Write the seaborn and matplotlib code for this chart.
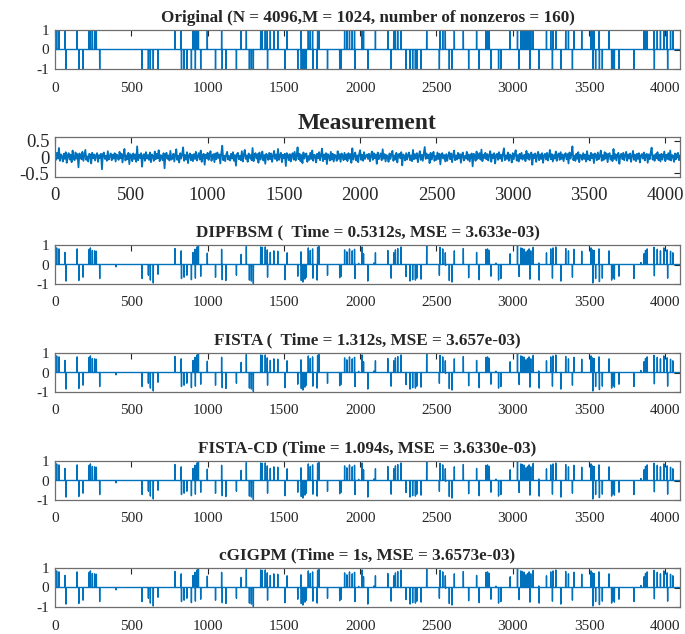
import seaborn as sns
import numpy as np
import matplotlib.pyplot as plt

N = 4096

# support of the original sparse signal (+1 and -1 entries)
pos_idx = [11, 26, 65, 145, 224, 232, 245, 260, 271, 786,
           827, 905, 918, 931, 940, 998, 1092, 1220, 1254, 1348,
           1358, 1378, 1391, 1411, 1434, 1460, 1521, 1612, 1660, 1673,
           1688, 1721, 1730, 1898, 1913, 1930, 1948, 1963, 2013, 2022,
           2100, 2181, 2220, 2231, 2246, 2268, 2436, 2523, 2541, 2558,
           2617, 2676, 2763, 2824, 2835, 2846, 2983, 3031, 3053, 3064,
           3075, 3086, 3097, 3107, 3118, 3134, 3221, 3249, 3264, 3282,
           3347, 3365, 3402, 3452, 3513, 3522, 3533, 3565, 3631, 3860,
           3870, 3881, 3925, 3947, 3968, 3990, 4012, 4034, 4049]
neg_idx = [72, 156, 184, 293, 571, 612, 625, 644, 675, 829,
           846, 864, 894, 920, 955, 1052, 1096, 1120, 1189, 1274,
           1287, 1300, 1393, 1508, 1591, 1614, 1625, 1638, 1647, 1690,
           1718, 1786, 1866, 1876, 1966, 2050, 2203, 2301, 2327, 2344,
           2362, 2371, 2399, 2519, 2584, 2602, 2711, 2780, 2857, 2907,
           2922, 3042, 3112, 3173, 3260, 3315, 3391, 3525, 3543, 3568,
           3587, 3648, 3657, 3666, 3696, 3794, 3928, 4015]

# recovered magnitudes
pos_rec = [0.85, 0.80, 0.62, 0.80, 0.78, 0.85, 0.72, 0.70, 0.68, 0.82,
           0.70, 0.62, 0.78, 0.90, 0.95, 0.58, 0.78, 0.52, 0.92, 0.90,
           0.88, 0.90, 0.75, 0.62, 0.70, 0.68, 0.60, 0.65, 0.85, 0.72,
           0.80, 0.88, 0.92, 0.75, 0.65, 0.80, 0.70, 0.78, 0.90, 0.55,
           0.60, 0.72, 0.60, 0.75, 0.82, 0.90, 0.95, 0.88, 0.80, 0.60,
           0.70, 0.82, 0.62, 0.78, 0.80, 0.72, 0.55, 0.98, 0.85, 0.82,
           0.78, 0.65, 0.72, 0.80, 0.70, 0.88, 0.60, 0.80, 0.85, 0.90,
           0.82, 0.70, 0.78, 0.68, 0.85, 0.75, 0.72, 0.80, 0.70, 0.55,
           0.72, 0.80, 0.88, 0.78, 0.70, 0.85, 0.75, 0.68, 0.60]
neg_rec = [0.85, 0.82, 0.65, 0.72, 0.72, 0.55, 0.80, 0.95, 0.50, 0.72,
           0.65, 0.55, 0.78, 0.70, 0.60, 0.65, 0.78, 0.82, 0.55, 0.80,
           0.85, 0.98, 0.65, 0.78, 0.60, 0.82, 0.90, 0.75, 0.65, 0.70,
           0.80, 0.55, 0.68, 0.60, 0.72, 0.85, 0.70, 0.62, 0.85, 0.78,
           0.80, 0.70, 0.75, 0.55, 0.82, 0.90, 0.68, 0.78, 0.60, 0.80,
           0.72, 0.62, 0.75, 0.80, 0.70, 0.85, 0.65, 0.95, 0.72, 0.88,
           0.70, 0.80, 0.68, 0.75, 0.60, 0.72, 0.58, 0.70]
extra_idx = [400, 1990, 2090, 2560, 2890, 3170, 3840]
extra_val = [-0.12, 0.06, 0.08, -0.05, 0.07, 0.08, 0.10]

measurement = [
    0.04, -0.09, 0.13, -0.05, 0.28, -0.12, 0.08, 0.02, -0.14, 0.10, -0.06, 0.15, -0.18, 0.05, 0.12, -0.08, 0.07, -0.16, 0.20, -0.03,
    -0.10, 0.14, -0.05, 0.09, -0.32, 0.11, 0.03, -0.07, 0.16, -0.12, 0.06, 0.22, -0.09, 0.02, -0.14, 0.10, 0.07, -0.20, 0.13, -0.04,
    0.08, -0.11, 0.05, 0.12, -0.15, 0.06, -0.03, 0.10, -0.38, 0.09, 0.14, -0.06, 0.04, -0.12, 0.18, -0.08, 0.03, 0.11, -0.10, 0.07,
    -0.05, 0.12, -0.14, 0.08, 0.02, -0.09, 0.16, -0.04, 0.10, -0.17, 0.06, 0.25, -0.11, 0.05, -0.07, 0.13, -0.22, 0.09, 0.04, -0.13,
    0.11, -0.06, 0.08, -0.15, 0.33, -0.10, 0.07, -0.03, 0.12, -0.30, 0.05, 0.09, -0.12, 0.15, -0.05, 0.06, -0.09, 0.14, -0.16, 0.08,
    0.03, -0.12, 0.17, -0.07, 0.10, -0.04, 0.21, -0.13, 0.06, 0.02, -0.10, 0.12, -0.35, 0.08, 0.13, -0.06, 0.05, -0.11, 0.19, -0.08,
    -0.04, 0.10, -0.14, 0.07, 0.24, -0.09, 0.04, -0.17, 0.12, -0.05, 0.08, 0.30, -0.12, 0.06, -0.08, 0.15, -0.19, 0.05, 0.11, -0.10,
    0.07, -0.13, 0.09, -0.06, 0.16, -0.11, 0.03, 0.12, -0.08, 0.20, -0.15, 0.05, 0.10, -0.24, 0.07, -0.04, 0.13, -0.09, 0.06, 0.18,
    -0.12, 0.05, 0.09, -0.16, 0.11, -0.07, 0.14, -0.03, 0.08, -0.20, 0.12, 0.35, -0.10, 0.04, -0.13, 0.07, 0.16, -0.08, 0.03, -0.11,
    0.10, -0.05, 0.15, -0.12, 0.06, -0.27, 0.09, 0.13, -0.07, 0.04, -0.10, 0.18, -0.14, 0.08, 0.22, -0.06, 0.05, -0.15, 0.11, -0.03,
    0.06, -0.10, 0.28, -0.13, 0.07, 0.12, -0.05, 0.09, -0.18, 0.14, -0.08, 0.03, 0.17, -0.11, 0.06, -0.21, 0.10, 0.05, -0.09, 0.13,
    -0.07, 0.11, -0.15, 0.04, 0.19, -0.06, 0.08, -0.12, 0.25, -0.09, 0.05, 0.13, -0.16, 0.07, -0.04, 0.10, -0.28, 0.12, 0.06, -0.10,
    0.09, -0.14, 0.05, 0.12, -0.08, 0.16, -0.11, 0.04, 0.30, -0.07, 0.10, -0.13, 0.06, -0.19, 0.14, -0.05, 0.08, 0.11, -0.15, 0.03,
    -0.09, 0.13, -0.06, 0.20, -0.12, 0.07, 0.05, -0.17, 0.10, -0.04, 0.15, -0.10, 0.06, 0.26, -0.13, 0.08, -0.07, 0.12, -0.22, 0.09,
    0.04, -0.11, 0.16, -0.08, 0.10, -0.14, 0.07, 0.03, -0.12, 0.18, -0.06, 0.09, -0.15, 0.11, 0.05, -0.10, 0.13, -0.07, 0.08, -0.13,
    0.12, -0.05, 0.09, -0.18, 0.27, -0.08, 0.06, 0.14, -0.11, 0.05, -0.16, 0.10, 0.21, -0.09, 0.07, -0.12, 0.15, -0.06, 0.04, 0.08,
    -0.06, 0.10, -0.13, 0.05, 0.17, -0.09, 0.12, -0.04, 0.08, -0.21, 0.14, -0.07, 0.03, 0.11, -0.10, 0.24, -0.05, 0.09, -0.14, 0.06,
    0.02, -0.15, 0.11, -0.06, 0.09, 0.19, -0.12, 0.05, -0.08, 0.13, -0.17, 0.07, 0.10, -0.04, 0.15, -0.26, 0.08, 0.04, -0.11, 0.12,
    -0.08, 0.06, 0.14, -0.10, 0.05, -0.13, 0.22, -0.07, 0.09, -0.05, 0.12, -0.16, 0.04, 0.18, -0.09, 0.07, -0.12, 0.10, 0.31, -0.06,
    0.11, -0.04, 0.07, -0.19, 0.13, -0.08, 0.05, 0.16, -0.12, 0.03, -0.09, 0.14, -0.06, 0.10, -0.23, 0.08, 0.12, -0.05, 0.06, -0.14,
    0.09, -0.12, 0.04, 0.15, -0.07, 0.11, -0.16, 0.06, 0.20, -0.10, 0.05, -0.08, 0.13, -0.04, 0.09, -0.18, 0.07, 0.14, -0.11, 0.03,
    -0.05, 0.16, -0.09, 0.08, -0.14, 0.05, 0.11, -0.29, 0.10, 0.06, -0.12, 0.17, -0.06, 0.04, 0.12, -0.08, 0.23, -0.13, 0.07, -0.03,
    0.13, -0.07, 0.09, -0.11, 0.05, 0.18, -0.15, 0.08, -0.04, 0.12, -0.20, 0.06, 0.10, -0.09, 0.15, -0.05, 0.07, -0.13, 0.11, 0.27,
    -0.10, 0.05, -0.06, 0.14, -0.12, 0.08, 0.04, -0.17, 0.12, -0.07, 0.09, 0.21, -0.11, 0.06, -0.14, 0.10, -0.05, 0.13, -0.08, 0.04,
    0.07, -0.13, 0.19, -0.05, 0.10, -0.09, 0.06, 0.14, -0.24, 0.08, -0.04, 0.11, -0.15, 0.05, 0.16, -0.10, 0.08, -0.06, 0.12, -0.18,
    0.05, 0.10, -0.08, 0.13, -0.11, 0.04, 0.22, -0.07, 0.09, -0.14, 0.06, -0.05, 0.17, -0.12, 0.07, 0.11, -0.09, 0.15, -0.06, 0.08,
    -0.13, 0.06, 0.12, -0.07, 0.09, -0.20, 0.14, -0.05, 0.08, 0.33, -0.10, 0.04, -0.12, 0.10, -0.06, 0.15, -0.16, 0.07, 0.05, -0.09,
    0.12, -0.06, 0.08, -0.14, 0.18, -0.08, 0.05, -0.11, 0.13, -0.04, 0.09, -0.19, 0.11, 0.06, -0.10, 0.14, -0.07, 0.03, 0.20, -0.12,
    0.06, -0.09, 0.15, -0.05, 0.11, -0.16, 0.07, 0.12, -0.08, 0.04, -0.13, 0.25, -0.06, 0.09, -0.11, 0.07, 0.13, -0.21, 0.05, 0.10,
    -0.07, 0.13, -0.10, 0.06, 0.16, -0.12, 0.08, -0.05, 0.11, -0.15, 0.04, 0.19, -0.09, 0.07, -0.13, 0.10, -0.06, 0.12, -0.17, 0.05,
    0.09, -0.05, 0.14, -0.11, 0.06, 0.10, -0.18, 0.08, -0.07, 0.13, 0.29, -0.08, 0.05, -0.12, 0.09, -0.04, 0.15, -0.10, 0.07, -0.14,
    0.10, -0.08, 0.05, 0.17, -0.13, 0.07, -0.06, 0.12, -0.09, 0.20, -0.11, 0.06, 0.04, -0.15, 0.11, -0.07, 0.09, 0.13, -0.10, 0.05,
]

titles = ["Original (N = 4096,M = 1024, number of nonzeros = 160)",
          "Measurement",
          "DIPFBSM (  Time = 0.5312s, MSE = 3.633e-03)",
          "FISTA (  Time = 1.312s, MSE = 3.657e-03)",
          "FISTA-CD (Time = 1.094s, MSE = 3.6330e-03)",
          "cGIGPM (Time = 1s, MSE = 3.6573e-03)"]

# build signals
x_orig = np.zeros(N)
x_orig[pos_idx] = 1.0
x_orig[neg_idx] = -1.0

x_rec = np.zeros(N)
x_rec[pos_idx] = pos_rec
x_rec[neg_idx] = -np.array(neg_rec)
x_rec[extra_idx] = extra_val

idx = np.arange(N)
meas_x = np.linspace(0, N, len(measurement))

sns.set_style("white")
plt.rcParams['font.family'] = ['Liberation Serif', 'DejaVu Serif']
plt.rcParams['axes.unicode_minus'] = False

blue = "#0072BD"
fig = plt.figure(figsize=(6.85, 6.34), dpi=100)
H = 634.0
W = 685.0
boxes = [(30, 69), (137, 177), (245, 284), (353, 392), (461, 500), (568, 607)]
left, right = 55, 680

series = [(idx, x_orig), (meas_x, np.array(measurement)),
          (idx, x_rec), (idx, x_rec), (idx, x_rec), (idx, x_rec)]

for i, ((top, bot), (xs, ys), title) in enumerate(zip(boxes, series, titles)):
    ax = fig.add_axes([left / W, 1 - bot / H, (right - left) / W, (bot - top) / H])
    lw = 1.3 if i == 1 else 1.0
    sns.lineplot(x=xs, y=ys, ax=ax, color=blue, linewidth=lw, estimator=None)
    ax.set_xlim(0, N)
    ax.set_xticks(np.arange(0, 4001, 500))
    if i == 1:
        ax.set_ylim(-0.62, 0.62)
        ax.set_yticks([-0.5, 0, 0.5])
        ax.set_yticklabels(["-0.5", "0", "0.5"])
        fs, tfs, xpad = 13.5, 17, 7
    else:
        ax.set_ylim(-1, 1)
        ax.set_yticks([-1, 0, 1])
        fs, tfs, xpad = 11, 12.3, 9
    ax.set_title(title, fontsize=tfs, fontweight='bold', pad=6)
    ax.tick_params(direction='in', top=True, right=True, length=4, width=0.8,
                   labelsize=fs, colors='#262626')
    ax.tick_params(axis='x', pad=xpad)
    ax.tick_params(axis='y', pad=4)
    for s in ax.spines.values():
        s.set_color('#6e6e6e')
        s.set_linewidth(0.9)
    ax.set_xlabel("")
    ax.set_ylabel("")

fig.savefig("out.png", dpi=100)
